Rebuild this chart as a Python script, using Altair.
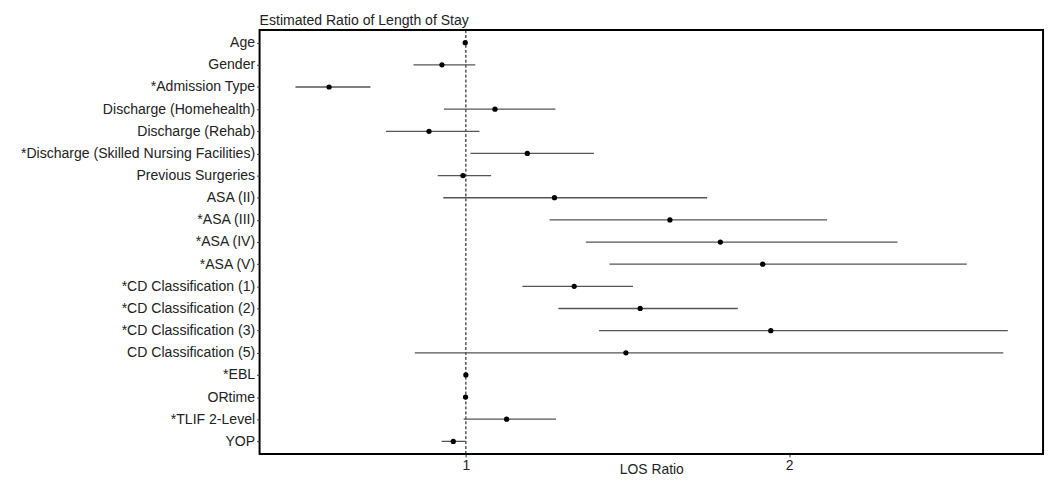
import altair as alt
import pandas as pd

labels = [
    "Age", "Gender", "*Admission Type", "Discharge (Homehealth)", "Discharge (Rehab)",
    "*Discharge (Skilled Nursing Facilities)", "Previous Surgeries", "ASA (II)", "*ASA (III)",
    "*ASA (IV)", "*ASA (V)", "*CD Classification (1)", "*CD Classification (2)",
    "*CD Classification (3)", "CD Classification (5)", "*EBL", "ORtime", "*TLIF 2-Level", "YOP",
]
est = [0.998, 0.926, 0.577, 1.090, 0.886, 1.190, 0.991, 1.274, 1.631, 1.787, 1.918,
       1.335, 1.539, 1.943, 1.495, 1.000, 0.999, 1.126, 0.961]
lo = [0.996, 0.838, 0.473, 0.932, 0.753, 1.014, 0.913, 0.930, 1.259, 1.371, 1.444,
      1.175, 1.286, 1.412, 0.842, 0.999, 0.998, 0.993, 0.925]
hi = [1.001, 1.029, 0.705, 1.277, 1.042, 1.396, 1.078, 1.746, 2.117, 2.335, 2.549,
      1.517, 1.841, 2.676, 2.662, 1.001, 1.001, 1.279, 1.000]
ref_line = [1]
x_ticks = [1, 2]

df = pd.DataFrame({"label": labels, "est": est, "lo": lo, "hi": hi})
ref = pd.DataFrame({"ref": ref_line})

FONT = "Liberation Sans"

xscale = alt.Scale(domain=[0.362, 2.785], nice=False, zero=False)
yscale = alt.Scale(type="point", padding=0.57)

x_axis = alt.Axis(
    values=x_ticks, format="d", title="LOS Ratio", grid=False, domain=False,
    tickSize=3, tickColor="#333333", labelPadding=2, labelFontSize=14,
    labelColor="#222222", labelFont=FONT, titleFont=FONT, titleFontSize=14,
    titleFontWeight="normal", titleColor="#222222", titleBaseline="alphabetic",
    titleY=20,
)
y_axis = alt.Axis(
    title=None, grid=False, domain=False, tickSize=3, tickColor="#333333",
    labelPadding=2, labelFontSize=14.2, labelColor="#222222", labelFont=FONT,
    labelLimit=400, minExtent=246, maxExtent=246,
)

ci = alt.Chart(df).mark_rule(color="#555555", strokeWidth=1.3).encode(
    x=alt.X("lo:Q", scale=xscale, axis=x_axis),
    x2="hi:Q",
    y=alt.Y("label:N", sort=labels, scale=yscale, axis=y_axis),
)
pts = alt.Chart(df).mark_circle(color="black", size=28, opacity=1).encode(
    x=alt.X("est:Q", scale=xscale),
    y=alt.Y("label:N", sort=labels, scale=yscale),
)
vline = alt.Chart(ref).mark_rule(color="black", strokeDash=[3, 2], strokeWidth=1).encode(
    x=alt.X("ref:Q", scale=xscale),
)

chart = alt.layer(vline, ci, pts).properties(
    width=791, height=428,
    title=alt.TitleParams(
        "Estimated Ratio of Length of Stay", anchor="start", frame="group",
        fontSize=14.2, font=FONT, fontWeight="normal", color="#222222", offset=1,
    ),
    padding={"left": 8, "top": 4, "right": 5, "bottom": 5},
).configure(background="white").configure_view(stroke="black", strokeWidth=2)

chart.save("out.html", embed_options={"renderer": "svg", "actions": False})
